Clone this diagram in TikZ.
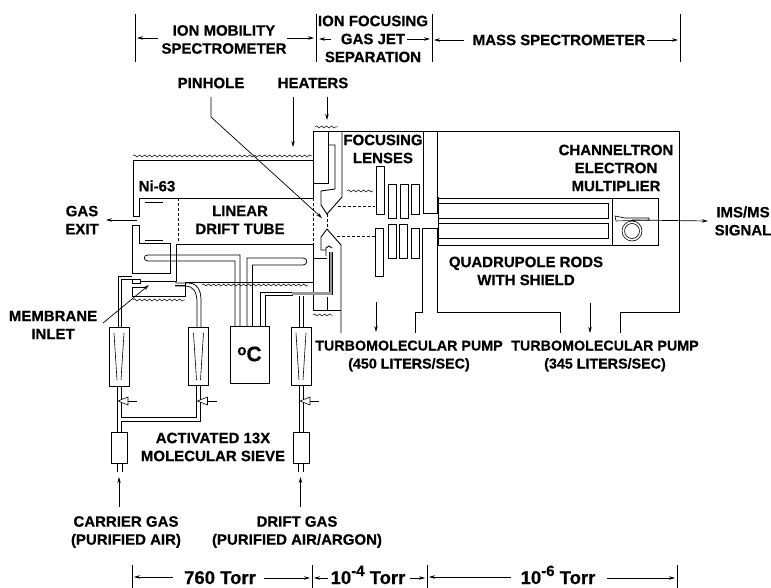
\documentclass[tikz,border=0pt]{standalone}
\usepackage{fontspec}
\setmainfont{Liberation Sans}[BoldFeatures={FakeBold=0.5}]
\usetikzlibrary{arrows.meta, decorations.pathmorphing}

\begin{document}
\begin{tikzpicture}[x=1pt, y=-1pt, >={Stealth[length=6pt,width=3.5pt]},
  lab/.style={font=\bfseries\fontsize{15}{18}\selectfont, align=center, inner sep=0pt},
  pumplab/.style={lab, font=\bfseries\fontsize{14.3}{18}\selectfont},
  press/.style={font=\bfseries\fontsize{18.5}{20}\selectfont, inner sep=0pt, anchor=base},
  wall/.style={draw, line width=0.9pt},
  thin wall/.style={draw, line width=0.6pt},
  bar/.style={draw, line width=0.7pt},
  lead/.style={draw, line width=0.7pt, ->},
  field/.style={draw, line width=0.6pt, densely dashed},
  coil/.style={draw, line width=0.5pt, decorate, decoration={snake, amplitude=1pt, segment length=5pt}},
  tube/.style={draw, line width=0.75pt}]
\useasboundingbox (0,0) rectangle (771,588);

% labels
\node[lab] (ims) at (224,39.5) {ION MOBILITY\\SPECTROMETER};
\node[lab] (jet) at (373,39) {ION FOCUSING\\GAS JET\\SEPARATION};
\node[lab] (ms) at (559,40) {MASS SPECTROMETER};
\node[lab] (pinlab) at (211,83) {PINHOLE};
\node[lab] (heatlab) at (313,83) {HEATERS};
\node[lab] (lenslab) at (383,149) {FOCUSING\\LENSES};
\node[lab] (chan) at (616,168) {CHANNELTRON\\ELECTRON\\MULTIPLIER};
\node[lab] (nilab) at (157,186) {Ni-63};
\node[lab] (drift) at (240,220) {LINEAR\\DRIFT TUBE};
\node[lab] (exit) at (82,220) {GAS\\EXIT};
\node[lab] (signal) at (743,221) {IMS/MS\\SIGNAL};
\node[lab] (quad) at (526,271) {QUADRUPOLE RODS\\WITH SHIELD};
\node[lab] (mem) at (53,325) {MEMBRANE\\INLET};
\node[pumplab] (pumpa) at (409,356) {TURBOMOLECULAR PUMP\\(450 LITERS/SEC)};
\node[pumplab] (pumpb) at (605,356) {TURBOMOLECULAR PUMP\\(345 LITERS/SEC)};
\node[lab] (sieve) at (213,447) {ACTIVATED 13X\\MOLECULAR SIEVE};
\node[lab] (carrier) at (126,532) {CARRIER GAS\\(PURIFIED AIR)};
\node[lab] (driftgas) at (297,532) {DRIFT GAS\\(PURIFIED AIR/ARGON)};
\node[press] (torra) at (220,584) {760 Torr};
\node[press] (torrb) at (368,584) {10\raisebox{8pt}{\fontsize{15}{15}\selectfont-4} Torr};
\node[press] (torrc) at (558,584) {10\raisebox{8pt}{\fontsize{15}{15}\selectfont-6} Torr};

% region markers, top and bottom
\foreach \x in {135,316,432,680} \draw[bar] (\x,14) -- (\x,62);
\foreach \x in {132,312,427,677} \draw[bar] (\x,565) -- (\x,588);
\draw[lead] (158,38) -- (137,38);
\draw[lead] (287,38) -- (314,38);
\draw[lead] (331,39) -- (319,39);
\draw[lead] (407,39) -- (430,39);
\draw[lead] (464,40) -- (434,40);
\draw[lead] (647,40) -- (678,40);
\draw[lead] (173,577) -- (134,577);
\draw[lead] (264,578) -- (310,578);
\draw[lead] (328,578) -- (314,578);
\draw[lead] (410,578) -- (425,578);
\draw[lead] (511,577) -- (429,577);
\draw[lead] (607,578) -- (675,578);

% drift tube housing
\draw[wall] (133,216) -- (133,160) -- (313,160);
\draw[wall] (133,216) -- (139,216) -- (139,198) -- (313,198);
\draw[wall] (132,225) -- (139,225) -- (139,243) -- (170,243) -- (170,273) -- (132,273) -- cycle;
\draw[wall] (145,202) -- (163,202);
\draw[wall] (145,240) -- (163,240);
\draw[field] (178,198) -- (178,243);
\draw[field] (313,198) -- (313,244);
\draw[wall] (176,244) -- (313,244);
\draw[wall] (176,244) -- (176,281) -- (140,281);
\draw[wall] (132,279) -- (140,279) -- (140,283) -- (132,283) -- cycle;
\draw[wall] (132,287) -- (145,287);
\draw[wall] (132,287) -- (132,296) -- (185,296) -- (185,282) -- (313,282);
\draw[wall] (175,285) -- (185,285);
\coordinate (memtip) at (149,285);
\draw[lead] (103,323) -- (memtip);
\coordinate (exittip) at (106,220);
\draw[lead] (137,220) -- (exittip);

% heater coils
\draw[coil] (133,156) -- (312,156);
\draw[coil] (202,285) -- (308,285);
\draw[coil] (133,300) -- (185,300);
\draw[coil] (315,127) -- (338,127);
\draw[coil] (313,315) -- (333,315);
\draw[coil] (347,191) -- (373,191);

% upper jet body
\draw[wall] (313,198) -- (313,131) -- (679,131) -- (679,312) -- (620,312) -- (620,333);
\draw[wall] (313,183) -- (328,183) -- (328,131);
\draw[wall] (328,145) -- (335,145) -- (335,189) -- (321,191) -- (321,205) -- (327,214) -- (342,197) -- (342,131);
\draw[wall] (423,131) -- (423,213) -- (437,213) -- (437,131);
\draw[wall] (437,197) -- (439,197);
\draw[field] (327,214) -- (327,230);
\draw[field] (338,206) -- (375,206);
\draw[field] (337,236) -- (375,236);

% lower jet body
\draw[wall] (313,244) -- (313,310) -- (341,310);
\draw[wall] (313,258) -- (327,258);
\draw[wall] (327,297) -- (327,310);
\draw[wall] (326,250) -- (321,250) -- (321,237) -- (327,229) -- (341,245) -- (341,333);
\draw[wall] (326,256) -- (326,248) -- (329,246) -- (332,248);
\draw[wall] (415,333) -- (415,312) -- (422,312) -- (422,228) -- (437,228) -- (437,312) -- (560,312) -- (560,333);

% focusing lenses
\foreach \xa/\ya/\xb/\yb in {376/166/384/214, 388/184/396/218, 400/184/408/218, 411/184/419/214,
    375/228/383/276, 388/224/396/258, 399/224/407/258, 411/228/419/258}
  \draw[wall] (\xa,\ya) rectangle (\xb,\yb);

% quadrupole and detector
\draw[wall] (438,198) rectangle (658,245);
\draw[wall] (438,203) rectangle (608,218);
\draw[wall] (438,223) rectangle (608,238);
\draw[thin wall] (612,198) -- (612,245);
\draw[thin wall] (615,216) -- (616,221) -- (649,220) -- (649,218) -- (625,218) -- cycle;
\draw[thin wall] (632,231) circle (10);
\draw[thin wall] (632,231) circle (7.5);
\coordinate (sigtip) at (708,221);
\draw[lead] (632,220) -- (sigtip);

% leaders
\coordinate (pinturn) at (211,117);
\coordinate (pintip) at (322,218);
\draw[lead] (211,97) -- (pinturn) -- (pintip);
\coordinate (heattipa) at (293,147);
\coordinate (heattipb) at (327,120);
\draw[lead] (293,97) -- (heattipa);
\draw[lead] (327,97) -- (heattipb);
\draw[lead] (376,302) -- (376,332);
\draw[lead] (590,303) -- (590,333);
\draw[lead] (119,507) -- (119,477);
\draw[lead] (300.5,507) -- (300.5,477);

% gas lines
\draw[tube] (118,327) -- (118,276) -- (132,276);
\draw[tube] (121.5,327) -- (121.5,279) -- (132,279);
\draw[tube] (175,283) -- (188,283) .. controls (197,283) and (201,290) .. (201,300) -- (201,327);
\draw[tube] (175,286) -- (186,286) .. controls (193,286) and (197,292) .. (197,302) -- (197,327);
\draw[tube] (235,326) -- (235,261) -- (148,261) .. controls (143,261) and (143,255) .. (148,255) -- (240,255) -- (240,326);
\draw[tube] (247,326) -- (247,258) -- (303,258) .. controls (308,258) and (308,265) .. (303,265) -- (252.5,265) -- (252.5,326);
\draw[tube] (260,326) -- (260,292) -- (293,292);
\draw[tube] (265,326) -- (265,295) -- (293,295);
\draw[line width=3.6pt] (292,293.5) -- (331,293.5) -- (331,252);
\draw[line width=2.4pt, black!40] (292,293.5) -- (331,293.5) -- (331,252);
\draw[tube] (299.5,327) -- (299.5,296);
\draw[tube] (303,327) -- (303,296);
\draw[tube] (117.5,386) -- (117.5,432);
\draw[tube] (121.5,386) -- (121.5,417) -- (196.5,417) -- (196.5,385);
\draw[tube] (121.5,432) -- (121.5,421) -- (200,421) -- (200,385);
\draw[tube] (299.5,385) -- (299.5,432);
\draw[tube] (303,385) -- (303,432);

% flow meters, valves and sieves
\foreach \x/\t in {119/386, 198.5/385, 301/385} {
  \draw[wall, fill=white] (\x-10,327) rectangle (\x+10,\t);
  \draw[thin wall] (\x-5,333) -- (\x-2,380);
  \draw[thin wall] (\x+5,333) -- (\x+2,380);
  \draw[thin wall, fill=white] (\x-1,401) -- (\x+9,397) -- (\x+9,405) -- cycle;
  \draw[thin wall] (\x+9,401) -- (\x+18,401);
}
\foreach \x in {119.5,301} {
  \draw[thin wall, fill=white] (\x-8,432) rectangle (\x+8,463);
  \draw[thin wall] (\x-2.5,463) -- (\x-2.5,472);
  \draw[thin wall] (\x+2.5,463) -- (\x+2.5,472);
}

% oven
\draw[wall, fill=white] (230,326) rectangle (269,383);
\node[font=\bfseries\fontsize{21}{21}\selectfont, inner sep=0pt] (oven) at (249.5,354) {\raisebox{6pt}{\fontsize{15}{15}\selectfont o}C};
\end{tikzpicture}
\end{document}
